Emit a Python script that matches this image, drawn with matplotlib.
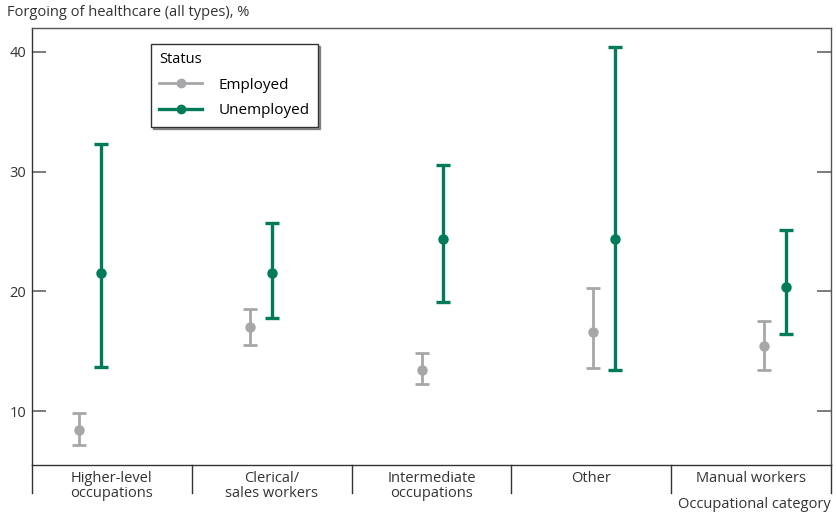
import numpy as np
import matplotlib.pyplot as plt
from matplotlib.lines import Line2D

plt.rcParams['font.family'] = ['Open Sans', 'DejaVu Sans']

categories = ["Higher-level\noccupations", "Clerical/\nsales workers",
              "Intermediate\noccupations", "Other", "Manual workers"]

emp_val = [8.4, 17.0, 13.45, 16.6, 15.45]
emp_lo = [7.2, 15.5, 12.25, 13.6, 13.45]
emp_hi = [9.85, 18.55, 14.85, 20.25, 17.55]

unemp_val = [21.5, 21.5, 24.4, 24.4, 20.35]
unemp_lo = [13.65, 17.8, 19.1, 13.4, 16.4]
unemp_hi = [32.3, 25.7, 30.55, 40.45, 25.1]

yticks = [10, 20, 30, 40]

grey = '#a7a7aa'
green = '#007b5a'
axis_col = '#333333'

fig = plt.figure(figsize=(8.37, 5.15), dpi=100)
ax = fig.add_axes([32 / 837, 50 / 515, 799 / 837, 437 / 515])

x = np.arange(len(categories))
off = 0.064

def draw(xs, val, lo, hi, col, lw):
    val = np.array(val)
    err = [val - np.array(lo), np.array(hi) - val]
    ax.errorbar(xs, val, yerr=err, fmt='o', color=col, ecolor=col,
                elinewidth=lw, capsize=5, capthick=lw, markersize=6.5, zorder=3)

draw(x - off, emp_val, emp_lo, emp_hi, grey, 2.0)
draw(x + off, unemp_val, unemp_lo, unemp_hi, green, 2.4)

ax.set_xlim(-0.339, 4.327)
ax.set_ylim(5.5, 42)
ax.set_yticks(yticks)
ax.set_xticks([])
ax.tick_params(axis='y', direction='in', length=10, width=1.2, color='#666666',
               left=True, right=True, labelsize=10.5, labelcolor='#333333', pad=4)

for side in ['left', 'bottom']:
    ax.spines[side].set_color(axis_col)
    ax.spines[side].set_linewidth(1.0)
for side in ['top', 'right']:
    ax.spines[side].set_color('#555555')
    ax.spines[side].set_linewidth(1.0)

# category separators and labels below the axis
n = len(categories)
for i in range(n + 1):
    ax.plot([i / n, i / n], [0, -0.064], transform=ax.transAxes,
            color=axis_col, lw=1.0, clip_on=False)
for i, lab in enumerate(categories):
    ax.text((i + 0.5) / n, -0.013, lab, transform=ax.transAxes, ha='center',
            va='top', fontsize=10.5, color='#333333', linespacing=1.05)

fig.text(7 / 837, 1 - 13 / 515, "Forgoing of healthcare (all types), %",
         ha='left', va='center', fontsize=10.5, color='#333333')
fig.text(831 / 837, 1 - 505 / 515, "Occupational category",
         ha='right', va='center', fontsize=10.5, color='#333333')

handles = [Line2D([0], [0], color=grey, lw=2, marker='o', markersize=6),
           Line2D([0], [0], color=green, lw=2.4, marker='o', markersize=6)]
leg = ax.legend(handles, ['Employed', 'Unemployed'], title='Status',
                loc='upper left', bbox_to_anchor=(119 / 799, 1 - 16 / 437),
                borderaxespad=0, fancybox=False,
                shadow={'ox': 1.5, 'oy': -1.5, 'color': '#333333'},
                edgecolor='#333333', framealpha=1, fontsize=11,
                title_fontsize=10.5, alignment='left', handlelength=2.8,
                handletextpad=1.05, borderpad=0.55, labelspacing=0.68)
leg.get_frame().set_linewidth(1.0)

fig.savefig('out.png', dpi=100)
